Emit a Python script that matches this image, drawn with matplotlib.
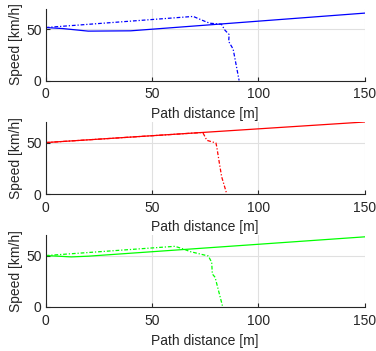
import matplotlib
matplotlib.use("Agg")
import matplotlib.pyplot as plt

plt.rcParams['font.family'] = ['Liberation Sans', 'DejaVu Sans']

# blue run
blue_ref_x = [0, 8, 20, 40, 150]
blue_ref_y = [51.5, 50.5, 48, 48.3, 65.5]
blue_act_x = [0, 69.4, 74.9, 77.2, 82.7, 84.3, 86.3, 86.1, 88.2, 91]
blue_act_y = [51.5, 62.3, 57.5, 55.7, 54.7, 49, 44.7, 37.9, 30.5, 0]

# red run
red_ref_x = [0, 150]
red_ref_y = [50, 70]
red_act_x = [0, 73, 74.2, 75.8, 80.1, 80.5, 82, 82.8, 85.2]
red_act_y = [50, 59.7, 58.7, 52.2, 49.6, 45.7, 26.4, 16.7, 0]

# green run
green_ref_x = [0, 5, 12, 20, 150]
green_ref_y = [50, 49.5, 48.7, 49.4, 68.2]
green_act_x = [0, 60.8, 64.8, 67.9, 76.5, 78.1, 78.4, 79.7, 83.3]
green_act_y = [50, 59, 56.4, 53.9, 49.6, 43.5, 32.1, 28.9, 0]

runs = [
    (blue_ref_x, blue_ref_y, blue_act_x, blue_act_y, (0, 0, 1)),
    (red_ref_x, red_ref_y, red_act_x, red_act_y, (1, 0, 0)),
    (green_ref_x, green_ref_y, green_act_x, green_act_y, (0, 1, 0)),
]

W, H = 376, 351
fig = plt.figure(figsize=(W / 100, H / 100), dpi=100)

left, right = 45.7, 364.5
bottoms = [80.5, 194, 307]
height = 72

for (rx, ry, ax_, ay_, col), b in zip(runs, bottoms):
    ax = fig.add_axes([left / W, 1 - b / H, (right - left) / W, height / H])
    ax.plot(rx, ry, color=col, lw=0.9)
    ax.plot(ax_, ay_, color=col, lw=0.9, linestyle=(0, (3, 1.5, 1, 1.5)))
    ax.set_xlim(0, 150)
    ax.set_ylim(0, 70)
    ax.set_xticks([0, 50, 100, 150])
    ax.set_yticks([0, 50])
    ax.grid(True, color='#e0e0e0', lw=0.8)
    ax.set_axisbelow(True)
    for s in ['top', 'right']:
        ax.spines[s].set_visible(False)
    for s in ['left', 'bottom']:
        ax.spines[s].set_color('#262626')
        ax.spines[s].set_linewidth(0.8)
    ax.tick_params(direction='in', length=3, width=0.8, colors='#262626',
                   labelsize=10)
    ax.tick_params(axis='x', pad=5)
    ax.tick_params(axis='y', pad=3)
    ax.set_xlabel('Path distance [m]', fontsize=10, color='#262626', labelpad=4)
    ax.set_ylabel('Speed [km/h]', fontsize=10, color='#262626', labelpad=2)

fig.savefig('out.png', dpi=100)
